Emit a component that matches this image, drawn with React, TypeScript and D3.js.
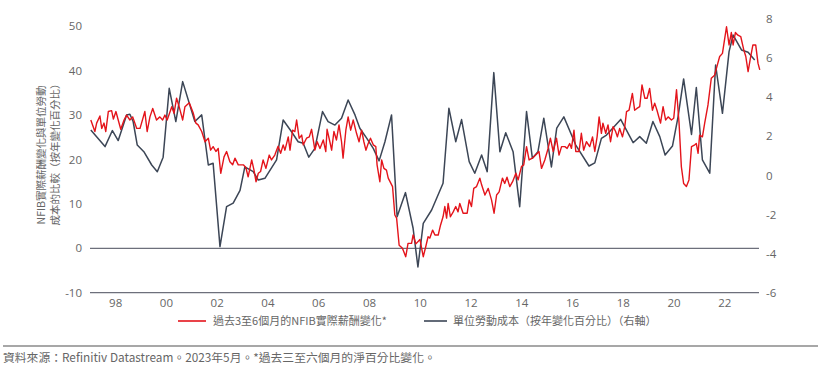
import React from "react";
import * as d3 from "d3";

// NFIB real compensation change (3-6 months ahead), left axis: [decimal year, value]
const nfibSeries: [number, number][] = [
  [1997.02, 28.9], [1997.18, 26.3], [1997.25, 28.2], [1997.38, 29.8], [1997.45, 27.0], [1997.54, 28.2],
  [1997.61, 26.3], [1997.71, 30.8], [1997.84, 31.0], [1997.91, 29.1], [1998.01, 30.8], [1998.10, 28.9],
  [1998.20, 26.8], [1998.33, 28.9], [1998.43, 30.0], [1998.56, 28.9], [1998.67, 29.6], [1998.83, 27.0],
  [1998.96, 27.0], [1999.15, 30.8], [1999.24, 26.3], [1999.35, 29.6], [1999.46, 31.5], [1999.61, 28.9],
  [1999.74, 29.6], [1999.85, 28.9], [1999.94, 30.0], [2000.03, 28.9], [2000.21, 31.9], [2000.30, 30.4],
  [2000.40, 33.8], [2000.50, 31.9], [2000.64, 28.9], [2000.73, 31.9], [2000.90, 32.8], [2001.06, 30.4],
  [2001.16, 28.2], [2001.25, 27.8], [2001.39, 26.3], [2001.52, 24.0], [2001.65, 24.8], [2001.74, 22.1],
  [2001.84, 22.9], [2001.95, 21.8], [2002.04, 22.5], [2002.14, 16.9], [2002.27, 20.6], [2002.37, 21.8],
  [2002.50, 19.5], [2002.61, 18.8], [2002.70, 20.3], [2002.83, 18.8], [2003.03, 18.8], [2003.13, 18.2],
  [2003.22, 16.1], [2003.36, 19.9], [2003.45, 17.6], [2003.53, 15.0], [2003.62, 16.9], [2003.71, 17.3],
  [2003.81, 19.9], [2003.92, 18.0], [2004.05, 21.0], [2004.14, 19.9], [2004.27, 21.0], [2004.40, 23.0],
  [2004.50, 21.4], [2004.60, 23.3], [2004.67, 22.1], [2004.80, 25.1], [2004.87, 22.1], [2004.97, 26.6],
  [2005.06, 26.3], [2005.13, 28.9], [2005.23, 24.8], [2005.33, 25.5], [2005.39, 23.3], [2005.52, 24.8],
  [2005.63, 25.1], [2005.72, 26.8], [2005.85, 22.1], [2005.94, 24.0], [2006.05, 22.5], [2006.18, 24.4],
  [2006.28, 21.8], [2006.33, 26.8], [2006.44, 24.0], [2006.51, 22.1], [2006.60, 26.3], [2006.70, 24.4],
  [2006.80, 27.8], [2006.90, 24.0], [2006.96, 20.3], [2007.07, 26.6], [2007.16, 29.6], [2007.26, 26.6],
  [2007.36, 28.9], [2007.49, 25.9], [2007.59, 24.0], [2007.69, 26.6], [2007.78, 24.0], [2007.86, 22.1],
  [2007.95, 23.6], [2008.04, 24.8], [2008.15, 23.3], [2008.25, 22.9], [2008.30, 18.8], [2008.41, 15.0],
  [2008.48, 19.9], [2008.57, 18.0], [2008.67, 17.6], [2008.74, 15.8], [2008.91, 13.9], [2009.00, 7.5],
  [2009.07, 6.8], [2009.17, 0.7], [2009.30, 0.0], [2009.43, -1.9], [2009.52, 1.1], [2009.66, 1.1],
  [2009.72, 3.0], [2009.83, 1.0], [2009.99, 2.0], [2010.12, -1.9], [2010.22, 0.4], [2010.31, 2.6],
  [2010.38, 2.3], [2010.49, 4.1], [2010.58, 3.0], [2010.71, 3.0], [2010.80, 5.2], [2010.90, 7.1],
  [2010.97, 9.4], [2011.04, 6.8], [2011.10, 10.1], [2011.19, 7.1], [2011.30, 8.2], [2011.40, 9.4],
  [2011.49, 8.2], [2011.56, 10.1], [2011.69, 7.9], [2011.85, 7.9], [2011.93, 10.9], [2012.02, 9.4],
  [2012.11, 13.5], [2012.22, 13.9], [2012.35, 15.8], [2012.42, 14.3], [2012.55, 12.0], [2012.68, 13.5],
  [2012.81, 10.9], [2012.91, 7.9], [2013.01, 12.0], [2013.11, 12.7], [2013.24, 15.8], [2013.33, 14.6],
  [2013.42, 16.0], [2013.53, 13.9], [2013.64, 15.0], [2013.77, 16.9], [2013.86, 15.4], [2013.99, 18.4],
  [2014.08, 18.8], [2014.19, 22.9], [2014.29, 19.9], [2014.42, 20.3], [2014.55, 21.0], [2014.68, 21.8],
  [2014.78, 18.0], [2014.91, 19.9], [2015.04, 22.5], [2015.13, 24.8], [2015.24, 21.8], [2015.37, 24.8],
  [2015.47, 21.0], [2015.57, 22.9], [2015.70, 22.9], [2015.79, 22.5], [2015.89, 23.6], [2015.96, 22.5],
  [2016.06, 26.6], [2016.13, 21.8], [2016.26, 21.8], [2016.35, 25.9], [2016.44, 22.1], [2016.55, 24.0],
  [2016.68, 22.9], [2016.79, 25.1], [2016.88, 21.8], [2016.97, 25.1], [2017.05, 29.6], [2017.14, 25.9],
  [2017.20, 28.2], [2017.31, 25.9], [2017.40, 27.8], [2017.50, 24.0], [2017.60, 27.4], [2017.70, 26.3],
  [2017.77, 25.1], [2017.86, 27.0], [2017.97, 25.1], [2018.06, 27.4], [2018.13, 30.8], [2018.23, 31.1],
  [2018.36, 34.9], [2018.45, 31.1], [2018.54, 31.5], [2018.65, 31.9], [2018.74, 36.8], [2018.85, 33.8],
  [2018.94, 33.8], [2019.04, 36.0], [2019.15, 31.1], [2019.24, 32.7], [2019.33, 31.1], [2019.47, 28.2],
  [2019.57, 31.9], [2019.67, 28.9], [2019.77, 29.6], [2019.90, 28.9], [2019.99, 29.3], [2020.10, 35.7],
  [2020.20, 28.2], [2020.29, 18.4], [2020.38, 14.6], [2020.49, 13.9], [2020.59, 15.4], [2020.69, 22.9],
  [2020.82, 23.3], [2020.88, 23.6], [2020.95, 21.4], [2021.01, 25.5], [2021.12, 25.1], [2021.21, 28.2],
  [2021.34, 32.3], [2021.47, 38.3], [2021.60, 39.0], [2021.71, 41.3], [2021.80, 43.2], [2021.91, 43.9],
  [2022.00, 47.3], [2022.07, 49.9], [2022.17, 45.8], [2022.26, 48.6], [2022.33, 45.8], [2022.42, 48.6],
  [2022.52, 48.0], [2022.63, 47.7], [2022.75, 44.7], [2022.83, 43.2], [2022.92, 39.8], [2023.01, 42.8],
  [2023.11, 45.8], [2023.22, 45.8], [2023.31, 41.7], [2023.38, 40.2],
];

// Unit labour cost, % y/y, right axis: [decimal year, value]
const ulcSeries: [number, number][] = [
  [1997.02, 2.33], [1997.58, 1.48], [1997.87, 2.3], [1998.10, 1.79], [1998.43, 3.1], [1998.56, 3.13],
  [1998.69, 2.75], [1998.85, 1.56], [1999.11, 1.22], [1999.42, 0.54], [1999.64, 0.2], [1999.87, 0.94],
  [2000.11, 4.46], [2000.37, 2.76], [2000.64, 4.8], [2001.12, 2.76], [2001.39, 3.1], [2001.65, 0.54],
  [2001.84, 0.63], [2002.11, -3.63], [2002.37, -1.59], [2002.63, -1.41], [2002.90, -0.76], [2003.09, 0.44],
  [2003.42, 0.2], [2003.62, -0.23], [2003.88, -0.14], [2004.34, 0.8], [2004.60, 2.84], [2004.93, 2.24],
  [2005.19, 1.73], [2005.39, 1.65], [2005.61, 0.94], [2005.85, 1.39], [2006.15, 3.27], [2006.37, 2.76],
  [2006.64, 2.58], [2006.90, 2.93], [2007.16, 3.86], [2007.43, 3.1], [2007.62, 2.42], [2007.89, 1.91],
  [2008.15, 1.39], [2008.38, 0.75], [2008.61, 1.73], [2008.87, 3.1], [2009.09, -2.1], [2009.42, -0.87],
  [2009.72, -2.69], [2009.91, -4.67], [2010.12, -2.44], [2010.45, -1.76], [2010.90, -0.39], [2011.13, 3.44],
  [2011.40, 1.73], [2011.63, 2.86], [2011.93, 0.71], [2012.15, 0.12], [2012.42, 1.05], [2012.64, 0.2],
  [2012.90, 5.26], [2013.14, 1.22], [2013.37, 2.19], [2013.66, 1.22], [2013.92, -1.59], [2014.19, 3.27],
  [2014.42, 0.88], [2014.64, 1.22], [2014.87, 2.93], [2015.17, 0.44], [2015.38, 2.42], [2015.66, 3.0],
  [2016.13, 1.56], [2016.65, 0.49], [2016.88, 0.65], [2017.14, 1.9], [2017.34, 2.07], [2017.90, 2.87],
  [2018.39, 1.68], [2018.65, 1.99], [2018.91, 1.65], [2019.17, 2.76], [2019.44, 1.99], [2019.65, 1.05],
  [2019.94, 1.51], [2020.16, 3.0], [2020.38, 4.94], [2020.69, 2.1], [2020.88, 4.5], [2021.12, 0.8],
  [2021.41, 0.12], [2021.64, 5.65], [2021.91, 3.18], [2022.17, 6.33], [2022.33, 7.18], [2022.66, 6.42],
  [2022.92, 6.3], [2023.18, 5.9],
];

const xTickYears = [1998, 2000, 2002, 2004, 2006, 2008, 2010, 2012, 2014, 2016, 2018, 2020, 2022];
const leftTicks = [50, 40, 30, 20, 10, 0, -10];
const rightTicks = [8, 6, 4, 2, 0, -2, -4, -6];
const leftRules = [0, -10];

const yTitle = ["NFIB實際薪酬變化與單位勞動", "成本的比較（按年變化百分比）"];
const legendLabels = ["過去3至6個月的NFIB實際薪酬變化*", "單位勞動成本（按年變化百分比）（右軸）"];
const footnote = "資料來源：Refinitiv Datastream。2023年5月。*過去三至六個月的淨百分比變化。";

const RED = "#e4141b";
const SLATE = "#3c4656";
const AXIS = "#6d6f7b";
const TEXT = "#666666";
const FONT = "'Open Sans', 'Noto Sans CJK TC', sans-serif";
const CJK = "'Noto Sans CJK TC', 'Open Sans', sans-serif";

export default function App() {
  const W = 820;
  const H = 372;
  const x = d3.scaleLinear().domain([1997, 2023.35]).range([90.3, 759]);
  const yL = d3.scaleLinear().domain([-10, 50]).range([292.7, 26.3]);
  const yR = d3.scaleLinear().domain([-6, 8]).range([293, 19]);

  const redLine = d3
    .line<[number, number]>()
    .x((d) => x(d[0]))
    .y((d) => yL(d[1]));
  const slateLine = d3
    .line<[number, number]>()
    .x((d) => x(d[0]))
    .y((d) => yR(d[1]));

  return (
    <svg
      width={W}
      height={H}
      style={{ position: "absolute", left: 0, top: 0, background: "#fff" }}
    >
      {leftRules.map((v) => (
        <line key={v} x1={90} x2={759} y1={yL(v)} y2={yL(v)} stroke={AXIS} strokeWidth={1.3} />
      ))}
      {leftTicks.map((v) => (
        <text key={v} x={82} y={yL(v)} dy="0.35em" textAnchor="end" fontFamily={FONT} fontSize={11.5} fill={TEXT}>
          {v}
        </text>
      ))}
      {rightTicks.map((v) => (
        <text key={v} x={766} y={yR(v)} dy="0.35em" textAnchor="start" fontFamily={FONT} fontSize={11.5} fill={TEXT}>
          {v}
        </text>
      ))}
      {xTickYears.map((yr) => (
        <text key={yr} x={x(yr)} y={303} dy="0.35em" textAnchor="middle" fontFamily={FONT} fontSize={11.5} fill={TEXT}>
          {String(yr % 100).padStart(2, "0")}
        </text>
      ))}
      <g transform="translate(41,155) rotate(-90)">
        <text x={0} y={0} dy="0.35em" textAnchor="middle" fontFamily={CJK} fontSize={10.5} fill={TEXT}>
          {yTitle[0]}
        </text>
      </g>
      <g transform="translate(55,152) rotate(-90)">
        <text x={0} y={0} dy="0.35em" textAnchor="middle" fontFamily={CJK} fontSize={10.5} fill={TEXT}>
          {yTitle[1]}
        </text>
      </g>
      <path d={slateLine(ulcSeries) ?? ""} fill="none" stroke={SLATE} strokeWidth={1.5} strokeLinejoin="round" />
      <path d={redLine(nfibSeries) ?? ""} fill="none" stroke={RED} strokeWidth={1.4} strokeLinejoin="round" />

      <line x1={178} x2={206} y1={321} y2={321} stroke={RED} strokeWidth={1.6} />
      <text x={213} y={321} dy="0.35em" fontFamily={CJK} fontSize={11} fill={TEXT}>
        {legendLabels[0]}
      </text>
      <line x1={424} x2={447} y1={321} y2={321} stroke={SLATE} strokeWidth={1.6} />
      <text x={453} y={321} dy="0.35em" fontFamily={CJK} fontSize={11} fill={TEXT}>
        {legendLabels[1]}
      </text>

      <line x1={3} x2={818} y1={346} y2={346} stroke="#8a8a8a" strokeWidth={1.5} />
      <text x={3} y={358} dy="0.35em" fontFamily={CJK} fontSize={11.8} fill={TEXT}>
        {footnote}
      </text>
    </svg>
  );
}
